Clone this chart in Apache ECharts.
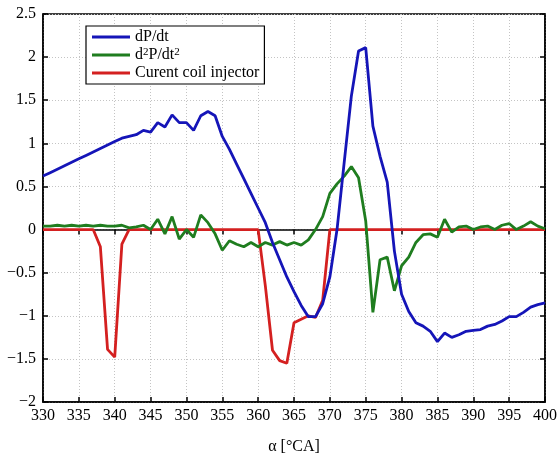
<!DOCTYPE html>
<html>
<head>
<meta charset="utf-8">
<script src="https://cdn.jsdelivr.net/npm/echarts@6/dist/echarts.min.js"></script>
<style>html,body{margin:0;padding:0;background:#fff}#c{width:560px;height:460px}</style>
</head>
<body>
<div id="c"></div>
<script>
var angles = [];
for (var a = 330; a <= 400; a++) angles.push(a);

var dPdt = [0.62,0.66,0.70,0.74,0.78,0.82,0.86,0.90,0.94,0.98,
  1.02,1.06,1.08,1.10,1.15,1.13,1.24,1.19,1.33,1.24,
  1.24,1.15,1.32,1.37,1.32,1.08,0.93,0.76,0.59,0.42,
  0.25,0.08,-0.15,-0.35,-0.55,-0.72,-0.88,-1.01,-1.01,-0.86,
  -0.55,0.0,0.78,1.55,2.07,2.11,1.2,0.85,0.55,-0.25,
  -0.75,-0.95,-1.08,-1.12,-1.18,-1.30,-1.20,-1.25,-1.22,-1.18,
  -1.17,-1.16,-1.12,-1.10,-1.06,-1.01,-1.01,-0.96,-0.90,-0.87,-0.85];

var d2Pdt2 = [0.04,0.04,0.05,0.04,0.05,0.04,0.05,0.04,0.05,0.04,
  0.04,0.05,0.02,0.03,0.05,0.0,0.12,-0.05,0.15,-0.11,
  0.0,-0.09,0.17,0.08,-0.05,-0.24,-0.13,-0.17,-0.2,-0.15,
  -0.2,-0.15,-0.18,-0.14,-0.18,-0.15,-0.18,-0.12,0.0,0.15,
  0.42,0.53,0.62,0.73,0.6,0.1,-0.96,-0.35,-0.32,-0.71,
  -0.42,-0.32,-0.15,-0.06,-0.05,-0.09,0.12,-0.03,0.03,0.04,
  0.0,0.03,0.04,0.0,0.05,0.07,0.0,0.04,0.09,0.04,0.01];

var current = [0,0,0,0,0,0,0,0,-0.2,-1.39,
  -1.48,-0.17,0,0,0,0,0,0,0,0,
  0,0,0,0,0,0,0,0,0,0,
  0,-0.65,-1.4,-1.52,-1.55,-1.08,-1.04,-1.0,-1.02,-0.82,
  0,0,0,0,0,0,0,0,0,0,
  0,0,0,0,0,0,0,0,0,0,
  0,0,0,0,0,0,0,0,0,0,0];

var seriesNames = ['dP/dt', 'd2P/dt2', 'Curent coil injector'];
var legendLabels = {'dP/dt': 'dP/dt', 'd2P/dt2': 'd{sup|2}P/dt{sup|2}', 'Curent coil injector': 'Curent coil injector'};
var xTicks = {min: 330, max: 400, interval: 5};
var yTicks = {min: -2, max: 2.5, interval: 0.5};

function pairs(ys) { return angles.map(function (x, i) { return [x, ys[i]]; }); }

var FONT = 'Liberation Serif';
var minus = function (v) { return String(v).replace('-', '\u2212'); };
var gridLine = {show: true, lineStyle: {color: '#c4c4c4', type: [1, 2], width: 1}};

var chart = echarts.init(document.getElementById('c'), null, {renderer: 'canvas'});
chart.setOption({
  animation: false,
  backgroundColor: '#fff',
  textStyle: {fontFamily: FONT},
  grid: {left: 43, right: 11, top: 14, bottom: 51, show: true, borderColor: '#000', borderWidth: 1.5, backgroundColor: 'transparent'},
  legend: {
    orient: 'vertical', left: 86, top: 26,
    data: seriesNames,
    formatter: function (n) { return legendLabels[n]; },
    icon: 'rect', itemWidth: 38, itemHeight: 3, itemGap: 2,
    borderColor: '#000', borderWidth: 1.2, backgroundColor: '#fff',
    padding: [3, 5, 3, 6],
    textStyle: {fontFamily: FONT, fontSize: 16, color: '#000', lineHeight: 16,
      rich: {sup: {fontFamily: FONT, fontSize: 11, color: '#000', verticalAlign: 'top', padding: [0, 0, 6, 0]}}}
  },
  xAxis: [{
    type: 'value', min: xTicks.min, max: xTicks.max, interval: xTicks.interval,
    name: '\u03B1 [\u00B0CA]', nameLocation: 'middle', nameGap: 37,
    nameTextStyle: {fontFamily: FONT, fontSize: 16, color: '#000'},
    axisLine: {show: true, onZero: false, lineStyle: {color: '#000', width: 1.5}},
    axisTick: {show: true, inside: true, length: 5, lineStyle: {color: '#000', width: 1.5}},
    axisLabel: {fontFamily: FONT, fontSize: 16, color: '#000', margin: 6},
    splitLine: gridLine
  }, {
    type: 'value', position: 'top', min: xTicks.min, max: xTicks.max, interval: xTicks.interval,
    axisLine: {show: true, lineStyle: {color: '#000', width: 1.5}},
    axisTick: {show: true, inside: true, length: 5, lineStyle: {color: '#000', width: 1.5}},
    axisLabel: {show: false}, splitLine: {show: false}
  }],
  yAxis: [{
    type: 'value', min: yTicks.min, max: yTicks.max, interval: yTicks.interval,
    axisLine: {show: true, onZero: false, lineStyle: {color: '#000', width: 1.5}},
    axisTick: {show: true, inside: true, length: 5, lineStyle: {color: '#000', width: 1.5}},
    axisLabel: {fontFamily: FONT, fontSize: 16, color: '#000', margin: 7, formatter: minus},
    splitLine: gridLine
  }, {
    type: 'value', position: 'right', min: yTicks.min, max: yTicks.max, interval: yTicks.interval,
    axisLine: {show: true, lineStyle: {color: '#000', width: 1.5}},
    axisTick: {show: true, inside: true, length: 5, lineStyle: {color: '#000', width: 1.5}},
    axisLabel: {show: false}, splitLine: {show: false}
  }],
  series: [
    {name: seriesNames[0], type: 'line', data: pairs(dPdt), symbol: 'none', z: 4,
     lineStyle: {color: '#1515b8', width: 2.8}, itemStyle: {color: '#1515b8'}},
    {name: seriesNames[1], type: 'line', data: pairs(d2Pdt2), symbol: 'none', z: 3,
     lineStyle: {color: '#1f7d1f', width: 2.8}, itemStyle: {color: '#1f7d1f'}},
    {name: seriesNames[2], type: 'line', data: pairs(current), symbol: 'none', z: 2,
     lineStyle: {color: '#d42020', width: 2.8}, itemStyle: {color: '#d42020'}}
  ]
});
</script>
</body>
</html>
